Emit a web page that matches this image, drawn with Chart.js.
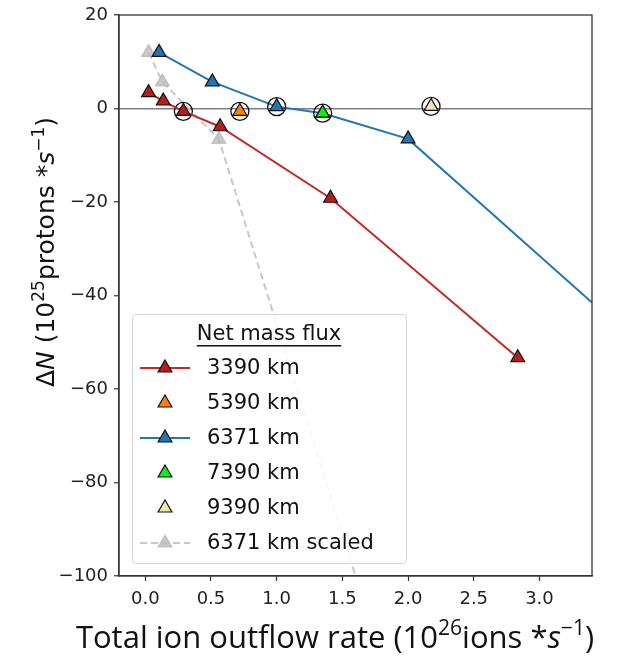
<!DOCTYPE html>
<html>
<head>
<meta charset="utf-8">
<script src="https://cdn.jsdelivr.net/npm/chart.js@4.4.0/dist/chart.umd.min.js"></script>
<style>
  html, body { margin: 0; padding: 0; background: #fff; }
</style>
</head>
<body>
<canvas id="myChart" width="622" height="658"></canvas>
<script>
// values
const x3390 = [0.025, 0.137, 0.29, 0.57, 1.41, 2.835];
const y3390 = [3.4, 1.6, -0.6, -3.9, -19.2, -53.3];
const x5390 = [0.72];
const y5390 = [-0.6];
const x6371 = [0.105, 0.51, 1.0, 1.35, 2.0, 3.4];
const y6371 = [12.0, 5.7, 0.4, -1.0, -6.5, -41.5];
const x7390 = [1.35];
const y7390 = [-1.0];
const x9390 = [2.175];
const y9390 = [0.45];
const xScaled = [0.025, 0.13, 0.56, 1.6];
const yScaled = [12.0, 5.7, -6.6, -100];
// points circled in black (zero crossings)
const xCross = [0.29, 0.72, 1.0, 1.35, 2.175];
const yCross = [-0.6, -0.6, 0.4, -1.0, 0.45];

const xTicks = [0, 0.5, 1.0, 1.5, 2.0, 2.5, 3.0];
const yTicks = [20, 0, -20, -40, -60, -80, -100];

function pts(xs, ys) {
   return xs.map(function(x, i) { return {x: x, y: ys[i]}; });
}

const tickFont = {family: 'DejaVu Sans', size: 18, lineHeight: 1};

// legend drawn as a box in the lower left of the plot
const boxLegend = {
   id: 'boxLegend',
   afterDatasetsDraw(chart) {
      const ctx = chart.ctx;
      const a = chart.chartArea;
      const left = a.left + 13, right = a.left + 287;
      const top = a.top + 299, bottom = a.bottom - 13;
      ctx.save();
      ctx.fillStyle = 'rgba(255,255,255,0.85)';
      ctx.strokeStyle = '#d4d4d4';
      ctx.lineWidth = 1;
      ctx.beginPath();
      ctx.roundRect(left + 0.5, top + 0.5, right - left, bottom - top, 4);
      ctx.fill();
      ctx.stroke();

      ctx.fillStyle = '#111';
      ctx.font = '21px "DejaVu Sans"';
      ctx.textAlign = 'center';
      ctx.textBaseline = 'alphabetic';
      const tx = (left + right) / 2;
      ctx.fillText('Net mass flux', tx, top + 26);
      const w = ctx.measureText('Net mass flux').width;
      ctx.fillRect(tx - w / 2, top + 31, w, 1.5);

      ctx.textAlign = 'left';
      ctx.textBaseline = 'middle';
      const items = chart.data.datasets.filter(function(d) { return d.inLegend; });
      items.forEach(function(d, i) {
         const yy = top + 54 + i * 35;
         const mx = left + 33;
         if (d.legendLine) {
            ctx.save();
            ctx.strokeStyle = d.legendLine;
            ctx.lineWidth = d.borderWidth;
            ctx.setLineDash(d.borderDash || []);
            ctx.beginPath();
            ctx.moveTo(left + 8, yy);
            ctx.lineTo(left + 58, yy);
            ctx.stroke();
            ctx.restore();
         }
         const r = d.pointRadius;
         ctx.beginPath();
         ctx.moveTo(mx, yy - r);
         ctx.lineTo(mx + r * 0.866, yy + r * 0.5);
         ctx.lineTo(mx - r * 0.866, yy + r * 0.5);
         ctx.closePath();
         ctx.fillStyle = d.pointBackgroundColor;
         ctx.fill();
         ctx.strokeStyle = d.pointBorderColor;
         ctx.lineWidth = d.pointBorderWidth;
         ctx.stroke();
         ctx.fillStyle = '#111';
         ctx.fillText(d.label, left + 75, yy + 1);
      });
      ctx.restore();
   }
};

// draw a string made of pieces, some superscript or italic, centred on x
function richText(ctx, parts, x, y, size, family) {
   function font(p) {
      const s = p.sup ? size * 0.68 : size;
      return (p.it ? 'italic ' : '') + s + 'px ' + family;
   }
   let total = 0;
   parts.forEach(function(p) { ctx.font = font(p); total += ctx.measureText(p.t).width; });
   let cx = x - total / 2;
   parts.forEach(function(p) {
      ctx.font = font(p);
      ctx.fillText(p.t, cx, p.sup ? y - size * 0.42 : y);
      cx += ctx.measureText(p.t).width;
   });
}

const frameAndTitles = {
   id: 'frameAndTitles',
   afterDraw(chart) {
      const ctx = chart.ctx;
      const a = chart.chartArea;
      ctx.save();
      ctx.strokeStyle = '#333';
      ctx.lineWidth = 1.3;
      ctx.strokeRect(a.left, a.top, a.right - a.left, a.bottom - a.top);

      ctx.fillStyle = '#111';
      ctx.textBaseline = 'alphabetic';
      ctx.textAlign = 'left';
      richText(ctx, [
         {t: 'Total ion outflow rate (10'}, {t: '26', sup: true},
         {t: 'ions *'}, {t: 's', it: true}, {t: '\u22121', sup: true}, {t: ')'}
      ], 335, 648, 31, '"Open Sans"');

      ctx.translate(54, 252);
      ctx.rotate(-Math.PI / 2);
      richText(ctx, [
         {t: '\u0394'}, {t: 'N', it: true}, {t: ' (10'}, {t: '25', sup: true},
         {t: 'protons *'}, {t: 's', it: true}, {t: '\u22121', sup: true}, {t: ')'}
      ], 0, 0, 25, '"DejaVu Sans"');
      ctx.restore();
   }
};

function series(label, xs, ys, fill, line, extra) {
   return Object.assign({
      label: label,
      data: pts(xs, ys),
      inLegend: true,
      legendLine: line,
      showLine: !!line,
      borderColor: line || fill,
      borderWidth: 2,
      pointStyle: 'triangle',
      pointRadius: 8,
      pointHoverRadius: 8,
      pointBackgroundColor: fill,
      pointBorderColor: '#111',
      pointBorderWidth: 1.2
   }, extra || {});
}

const canvas = document.getElementById('myChart');
const ctx = canvas.getContext('2d');
const myChart = new Chart(ctx, {
   type: 'scatter',
   data: {
      datasets: [
         series('3390 km', x3390, y3390, '#b81d1d', '#c62828', {order: 2}),
         series('5390 km', x5390, y5390, '#ff7f0e', null, {order: 1}),
         series('6371 km', x6371.slice(0, 5), y6371.slice(0, 5), '#1f77b4', '#1f77b4', {order: 2, showLine: false}),
         series('7390 km', x7390, y7390, '#11ee11', null, {order: 1}),
         series('9390 km', x9390, y9390, '#efe8ad', null, {order: 1}),
         series('6371 km scaled', xScaled.slice(0, 3), yScaled.slice(0, 3), 'rgba(190,190,190,0.85)', 'rgba(190,190,190,0.85)',
            {order: 6, showLine: false, borderDash: [7, 4], pointBorderColor: 'rgba(170,170,170,0.6)'}),
         // connecting lines, clipped to the chart area
         {
            label: 'line6371', data: pts(x6371, y6371), inLegend: false, showLine: true,
            borderColor: '#1f77b4', borderWidth: 2, pointRadius: 0, order: 4
         },
         {
            label: 'lineScaled', data: pts(xScaled, yScaled), inLegend: false, showLine: true,
            borderColor: 'rgba(190,190,190,0.85)', borderWidth: 2, borderDash: [7, 4], pointRadius: 0, order: 7
         },
         {
            label: 'crossings', data: pts(xCross, yCross), inLegend: false, showLine: false,
            pointStyle: 'circle', pointRadius: 9, pointHoverRadius: 9,
            pointBackgroundColor: 'rgba(0,0,0,0)', pointBorderColor: '#111', pointBorderWidth: 1.3, order: 3
         }
      ]
   },
   options: {
      responsive: false,
      animation: false,
      layout: {padding: {top: 13, right: 30, left: 0, bottom: 0}},
      plugins: {legend: {display: false}, tooltip: {enabled: false}},
      scales: {
         x: {
            type: 'linear', min: -0.2, max: 3.4,
            afterBuildTicks: function(s) { s.ticks = xTicks.map(function(v) { return {value: v}; }); },
            afterFit: function(s) { s.height = 82; },
            ticks: {
               font: tickFont, color: '#222', padding: 9, maxRotation: 0, autoSkip: false,
               callback: function(v) { return v.toFixed(1); }
            },
            grid: {drawOnChartArea: false, tickLength: 5, tickColor: '#333', tickWidth: 1.2},
            border: {color: '#333', width: 1.3}
         },
         y: {
            type: 'linear', min: -100, max: 20,
            afterBuildTicks: function(s) { s.ticks = yTicks.map(function(v) { return {value: v}; }); },
            afterFit: function(s) { s.width = 119; },
            ticks: {
               font: tickFont, color: '#222', padding: 6, autoSkip: false,
               callback: function(v) { return v < 0 ? '\u2212' + Math.abs(v) : String(v); }
            },
            grid: {
               drawOnChartArea: true, tickLength: 5, tickColor: '#333', tickWidth: 1.2,
               color: function(c) { return c.tick && c.tick.value === 0 ? '#7f7f7f' : 'rgba(0,0,0,0)'; },
               lineWidth: 1.5
            },
            border: {color: '#333', width: 1.3}
         }
      }
   },
   plugins: [boxLegend, frameAndTitles]
});
</script>
</body>
</html>
